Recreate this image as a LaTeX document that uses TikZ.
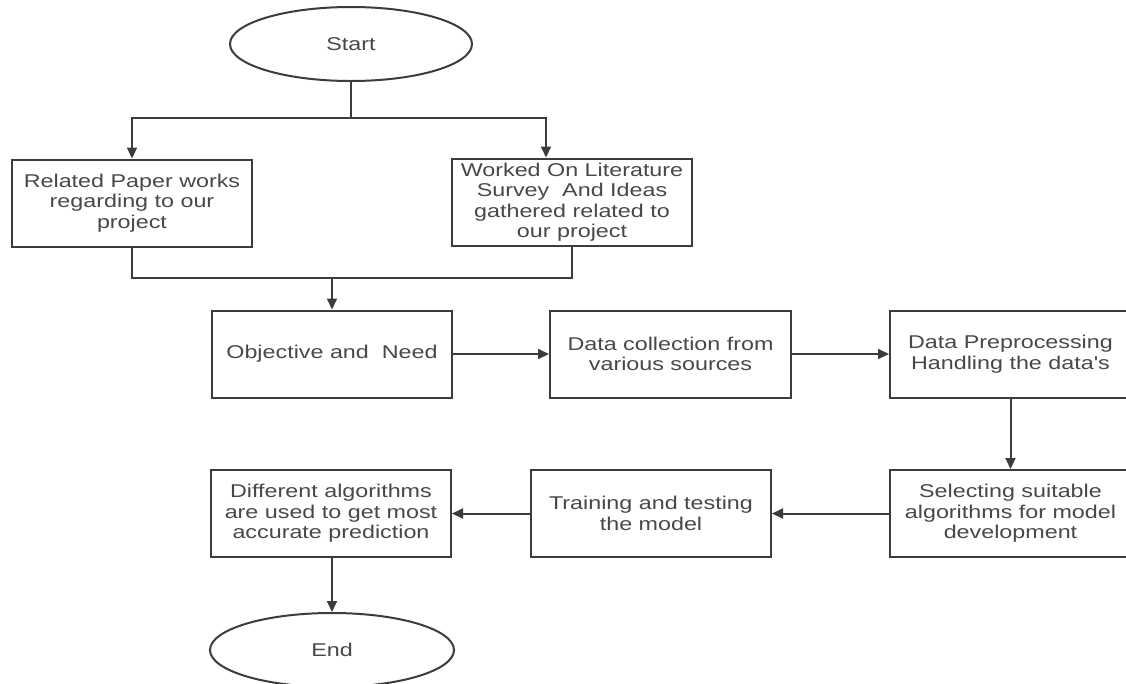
\documentclass[tikz,border=0pt]{standalone}
\usepackage{fontspec}
\usetikzlibrary{shapes.geometric,arrows.meta,calc}
\newfontfamily\lblfont[FakeStretch=1.26]{Liberation Sans}
\definecolor{linecol}{RGB}{60,60,60}
\definecolor{txtcol}{RGB}{72,72,72}
\tikzset{
  boxnode/.style={draw=linecol, line width=2pt, rectangle, minimum width=240pt, minimum height=87pt, inner sep=0pt, align=center, text=txtcol, font=\lblfont\fontsize{18.5}{20.5}\selectfont},
  ovalnode/.style={draw=linecol, line width=2pt, ellipse, minimum width=242pt, minimum height=74pt, inner sep=0pt, text=txtcol, font=\lblfont\fontsize{18.5}{20.5}\selectfont},
  conn/.style={draw=linecol, line width=2pt},
  arr/.style={conn, -{Triangle[length=11pt,width=10pt]}}
}
\begin{document}
\begin{tikzpicture}[x=1pt,y=-1pt]
\clip (0,0) rectangle (1126,683);
\fill[white] (0,0) rectangle (1126,683);
\node[ovalnode] (start) at (351,44) {Start};
\node[boxnode] (b1) at (132,203) {Related Paper works\\regarding to our\\project};
\node[boxnode] (b2) at (572,202) {Worked On Literature\\Survey\ \ And Ideas\\gathered related to\\our project};
\node[boxnode] (b3) at (332,354) {Objective and\ \ Need};
\node[boxnode, minimum width=241pt] (b4) at (670.5,354) {Data collection from\\various sources};
\node[boxnode, minimum width=241pt] (b5) at (1010.5,354) {Data Preprocessing\\Handling the data's};
\node[boxnode, minimum width=241pt] (b6) at (1010.5,513.5) {Selecting suitable\\algorithms for model\\development};
\node[boxnode] (b7) at (651,513.5) {Training and testing\\the model};
\node[boxnode] (b8) at (331,513.5) {Different algorithms\\are used to get most\\accurate prediction};
\node[ovalnode, minimum width=244pt] (end) at (332,650) {End};
\coordinate (split) at (351,118);
\coordinate (merge) at (332,278);
\draw[conn] (start.south) -- (split);
\draw[arr] (split) -| (b1.north);
\draw[arr] (split) -| ([xshift=-26pt]b2.north);
\draw[conn] (b1.south) |- (merge);
\draw[conn] (b2.south) |- (merge);
\draw[arr] (merge) -- (b3.north);
\draw[arr] (b3.east) -- (b4.west);
\draw[arr] (b4.east) -- (b5.west);
\draw[arr] (b5.south) -- (b6.north);
\draw[arr] (b6.west) -- (b7.east);
\draw[arr] (b7.west) -- (b8.east);
\draw[arr] ([xshift=1pt]b8.south) -- (end.north);
\end{tikzpicture}
\end{document}
